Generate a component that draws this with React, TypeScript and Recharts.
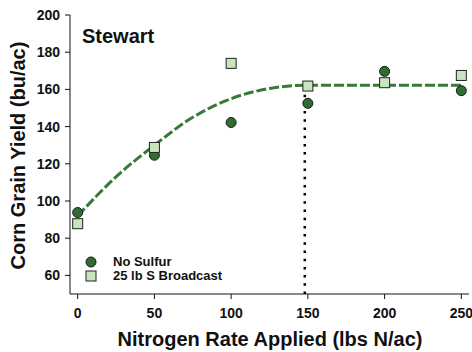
import React from 'react';
import {
  ComposedChart,
  Line,
  Scatter,
  XAxis,
  YAxis,
  ReferenceLine,
} from 'recharts';

// nitrogen rates (lbs N/ac)
const rates = [0, 50, 100, 150, 200, 250];
// corn grain yield (bu/ac)
const noSulfur = [93.8, 124.6, 142.2, 152.5, 169.7, 159.3];
const sulfurBroadcast = [87.8, 128.8, 174, 161.8, 163.6, 167.5];

// fitted quadratic-plateau curve
const fitRates = [0, 25, 50, 75, 100, 125, 148, 200, 250];
const fitYield = [92, 113, 130, 145, 155, 160.5, 162.2, 162.2, 162.2];

const optimumRate = 148;
const plateauYield = 162.2;

const xTicks = [0, 50, 100, 150, 200, 250];
const yTicks = [60, 80, 100, 120, 140, 160, 180, 200];

const FONT = '"Liberation Sans", Arial, Helvetica, sans-serif';
const DARK = '#2e6e32';
const LIGHT = '#c8e5c0';
const CURVE = '#357a38';

const fitData = fitRates.map((x, i) => ({ x, fit: fitYield[i] }));
const noSulfurData = rates.map((x, i) => ({ x, y: noSulfur[i] }));
const sulfurData = rates.map((x, i) => ({ x, y: sulfurBroadcast[i] }));

const Dot = (props: any) => (
  <circle cx={props.cx} cy={props.cy} r={5} fill={DARK} stroke="#1a1a1a" strokeWidth={1} />
);

const Square = (props: any) => (
  <rect x={props.cx - 5} y={props.cy - 5} width={10} height={10} fill={LIGHT} stroke="#222" strokeWidth={1} />
);

const tickStyle = { fontFamily: FONT, fontWeight: 'bold', fontSize: 14, fill: '#111' } as any;

export default function App() {
  return (
    <div style={{ position: 'absolute', left: 0, top: 0, width: 472, height: 352, background: '#fff' }}>
      <ComposedChart
        width={472}
        height={352}
        data={fitData}
        margin={{ top: 15, right: 3, left: 0, bottom: 0 }}
      >
        <XAxis
          dataKey="x"
          type="number"
          domain={[-5, 255]}
          ticks={xTicks}
          height={58}
          tick={tickStyle}
          tickSize={5}
          tickMargin={9}
          stroke="#111"
          allowDataOverflow
          label={() => (
            <text x={270} y={346} textAnchor="middle" fontFamily={FONT} fontWeight="bold" fontSize={20} fill="#111">
              Nitrogen Rate Applied (lbs N/ac)
            </text>
          )}
        />
        <XAxis xAxisId="top" dataKey="x" type="number" domain={[-5, 255]} orientation="top" height={0} tick={false} tickLine={false} stroke="#444" />
        <YAxis
          type="number"
          domain={[50, 200]}
          ticks={yTicks}
          width={70}
          tick={tickStyle}
          tickSize={5}
          tickMargin={5}
          stroke="#111"
          allowDataOverflow
          label={() => (
            <text
              x={25}
              y={155.5}
              transform="rotate(-90, 25, 155.5)"
              textAnchor="middle"
              fontFamily={FONT}
              fontWeight="bold"
              fontSize={20}
              fill="#111"
            >
              Corn Grain Yield (bu/ac)
            </text>
          )}
        />
        <YAxis yAxisId="right" domain={[50, 200]} orientation="right" width={0} tick={false} tickLine={false} stroke="#444" />
        <ReferenceLine
          segment={[{ x: optimumRate, y: 50 }, { x: optimumRate, y: plateauYield - 1.5 }]}
          stroke="#000"
          strokeWidth={2.5}
          strokeDasharray="2.5 5.7"
        />
        <Line
          dataKey="fit"
          type="monotone"
          stroke={CURVE}
          strokeWidth={3}
          strokeDasharray="10 3"
          dot={false}
          activeDot={false}
          isAnimationActive={false}
          legendType="none"
        />
        <Scatter name="No Sulfur" data={noSulfurData} dataKey="y" shape={<Dot />} isAnimationActive={false} />
        <Scatter name="25 lb S Broadcast" data={sulfurData} dataKey="y" shape={<Square />} isAnimationActive={false} />
      </ComposedChart>
      <div
        style={{
          position: 'absolute',
          left: 82,
          top: 24,
          fontFamily: FONT,
          fontWeight: 'bold',
          fontSize: 20,
          color: '#111',
          lineHeight: '24px',
        }}
      >
        Stewart
      </div>
      <div
        style={{
          position: 'absolute',
          left: 84,
          top: 255,
          fontFamily: FONT,
          fontWeight: 'bold',
          fontSize: 13,
          color: '#111',
          lineHeight: '14px',
        }}
      >
        <div style={{ display: 'flex', alignItems: 'center', height: 14 }}>
          <svg width={14} height={14} style={{ marginRight: 15 }}>
            <circle cx={7} cy={7} r={5} fill={DARK} stroke="#1a1a1a" strokeWidth={1} />
          </svg>
          No Sulfur
        </div>
        <div style={{ display: 'flex', alignItems: 'center', height: 14 }}>
          <svg width={14} height={14} style={{ marginRight: 15 }}>
            <rect x={2} y={2} width={10} height={10} fill={LIGHT} stroke="#222" strokeWidth={1} />
          </svg>
          25 lb S Broadcast
        </div>
      </div>
    </div>
  );
}
